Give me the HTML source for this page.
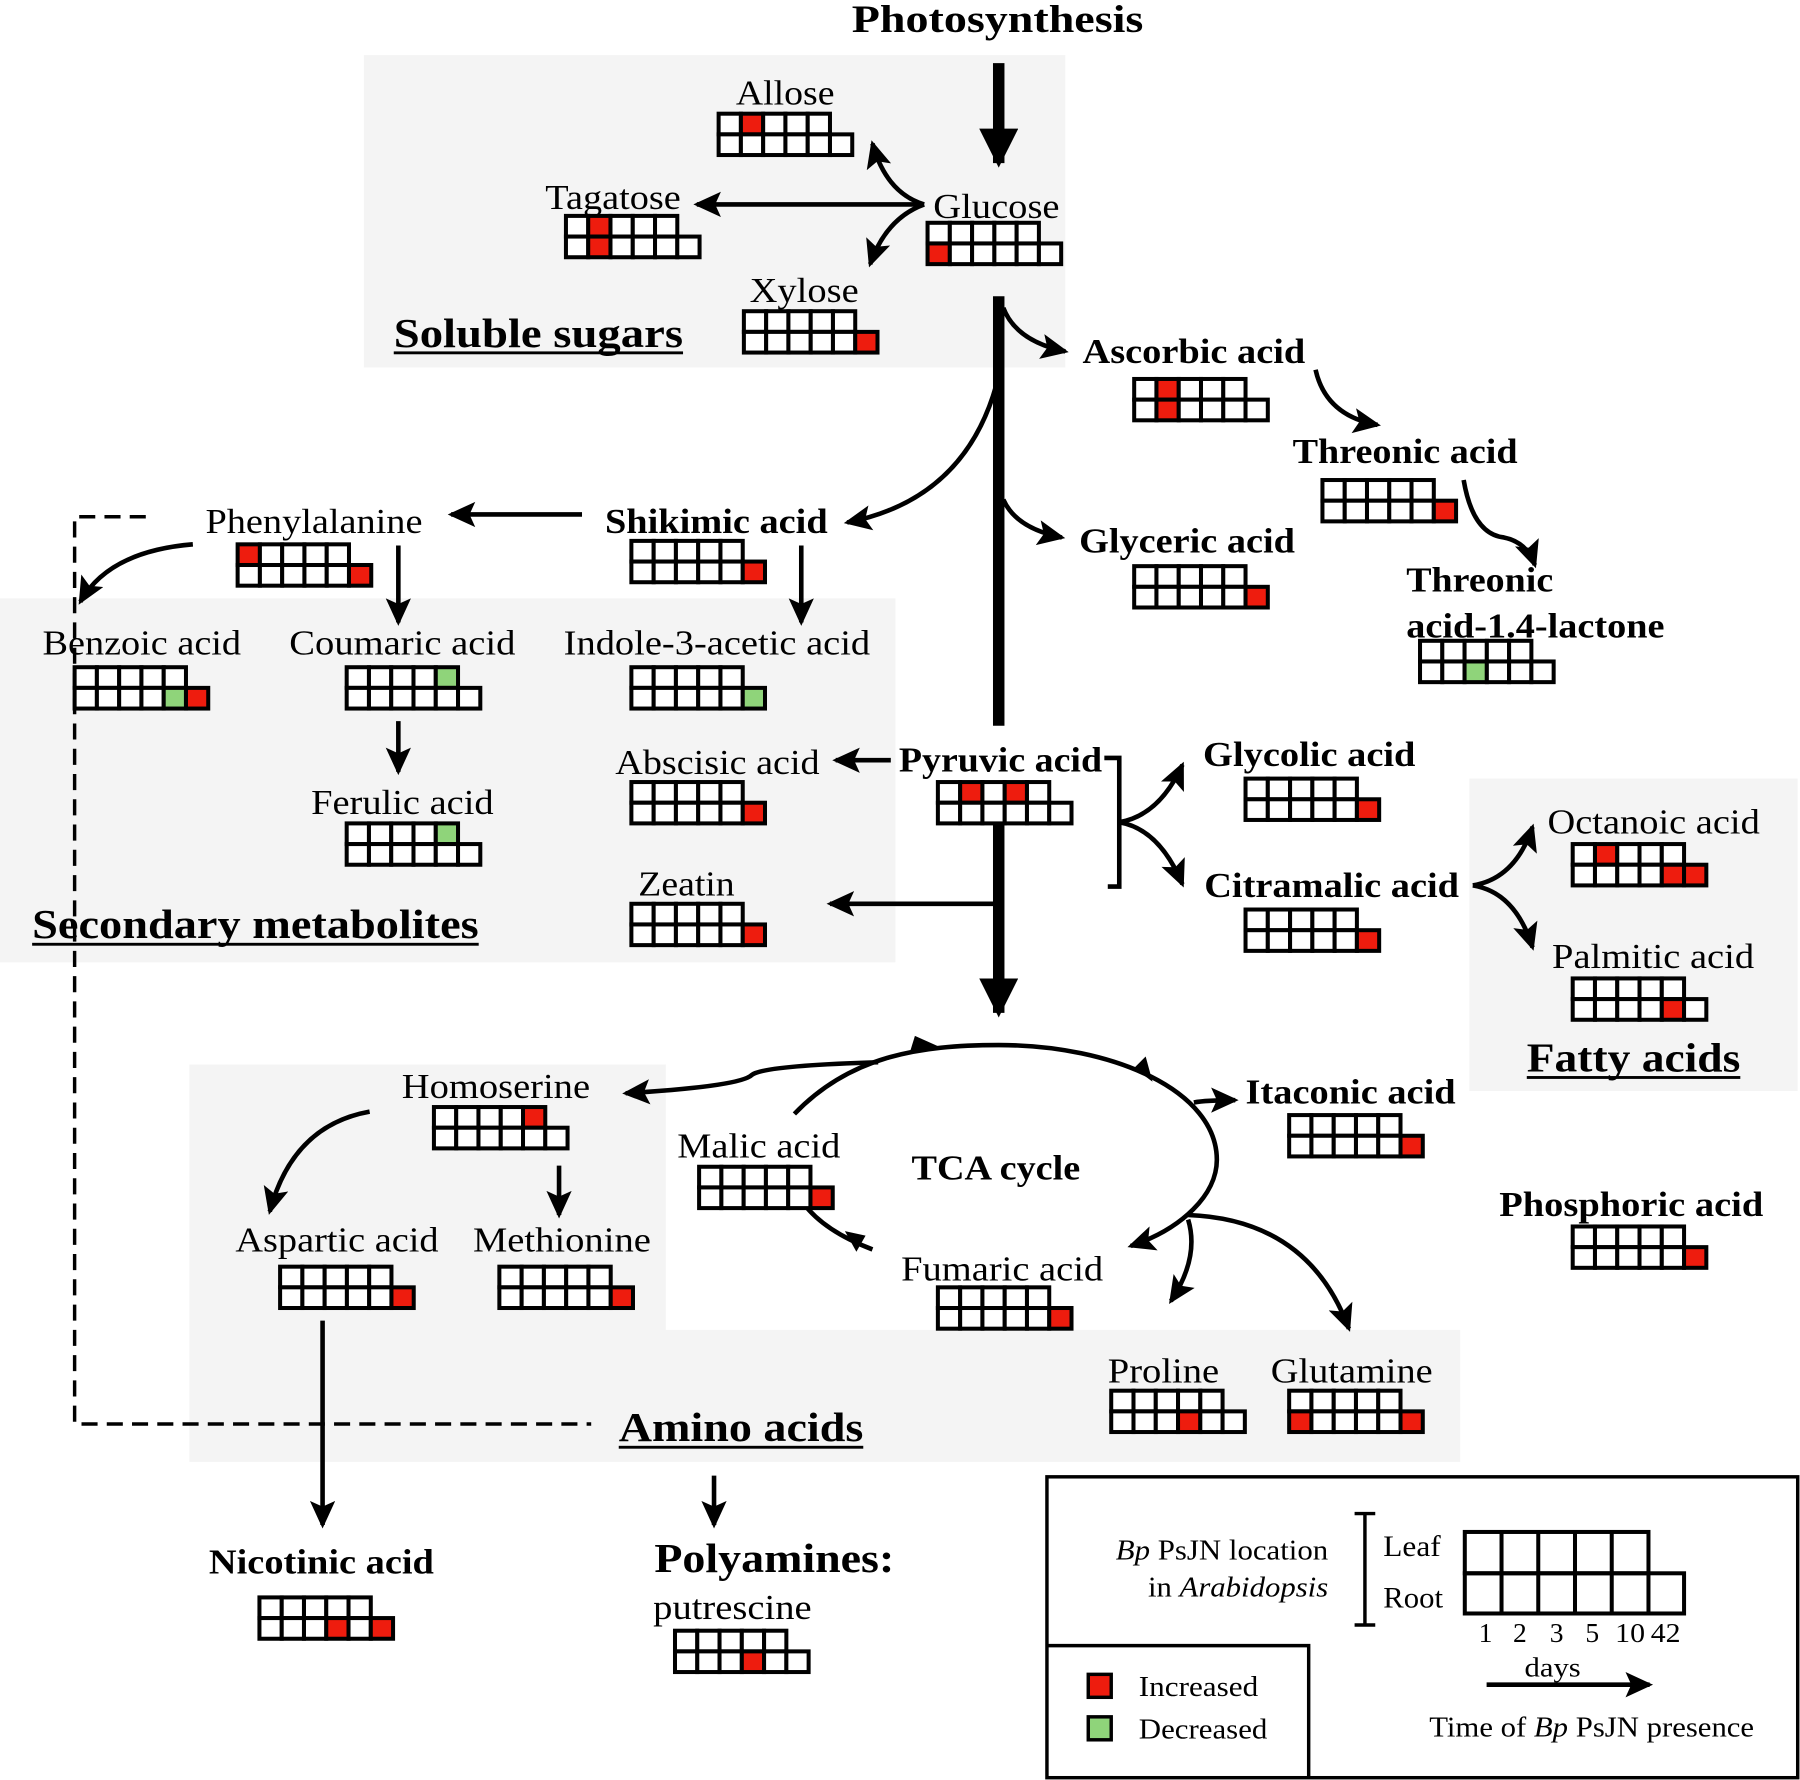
<!DOCTYPE html>
<html><head><meta charset="utf-8"><style>html,body{margin:0;padding:0;background:#fff}svg{display:block}text{font-family:"Liberation Serif","Times New Roman",serif}</style></head>
<body>
<svg id="s" width="1800" height="1780" viewBox="0 0 1568 1550" preserveAspectRatio="none" xmlns="http://www.w3.org/2000/svg">
<defs>
<marker id="a" markerUnits="userSpaceOnUse" markerWidth="28" markerHeight="28" refX="21" refY="11" orient="auto"><path d="M0,0 L24,11 L0,22 L5,11 Z" fill="#000"/></marker>
<marker id="b" markerUnits="userSpaceOnUse" markerWidth="40" markerHeight="40" refX="30" refY="17" orient="auto"><path d="M0,0 L34,17 L0,34 Z" fill="#000"/></marker>
</defs>
<g fill="#f4f4f4">
<rect x="317" y="48" width="611" height="272"/>
<rect x="0" y="521" width="780" height="317"/>
<path d="M165,927 H580 V1158 H1272 V1273 H165 Z"/>
<rect x="1280" y="678" width="286" height="272"/>
</g>
<g id="lines" fill="none" stroke="#000" stroke-width="4">
<line x1="870" y1="55" x2="870" y2="142" stroke-width="10" marker-end="url(#b)"/>
<line x1="870" y1="258" x2="870" y2="632" stroke-width="10"/>
<line x1="870" y1="718" x2="870" y2="882" stroke-width="10" marker-end="url(#b)"/>
<line x1="805" y1="178" x2="607" y2="178" marker-end="url(#a)"/>
<path d="M805,178 Q772,168 760,125" marker-end="url(#a)"/>
<path d="M805,178 Q772,190 758,230" marker-end="url(#a)"/>
<path d="M874,268 Q885,297 928,306" marker-end="url(#a)"/>
<path d="M868,335 Q840,435 738,455" marker-end="url(#a)"/>
<path d="M874,435 Q885,460 925,468" marker-end="url(#a)"/>
<path d="M1146,322 Q1155,362 1200,370" marker-end="url(#a)"/>
<path d="M1275,418 Q1283,465 1310,468 Q1330,472 1337,492" marker-end="url(#a)"/>
<line x1="507" y1="448" x2="393" y2="448" marker-end="url(#a)"/>
<line x1="698" y1="475" x2="698" y2="542" marker-end="url(#a)"/>
<line x1="347" y1="475" x2="347" y2="542" marker-end="url(#a)"/>
<path d="M168,474 Q95,480 70,524" marker-end="url(#a)"/>
<line x1="347" y1="628" x2="347" y2="672" marker-end="url(#a)"/>
<line x1="776" y1="662" x2="728" y2="662" marker-end="url(#a)"/>
<line x1="866" y1="787" x2="723" y2="787" marker-end="url(#a)"/>
<path d="M962,660 H975 V772 H965"/>
<path d="M975,716 Q1010,710 1030,666" marker-end="url(#a)"/>
<path d="M975,716 Q1010,722 1030,770" marker-end="url(#a)"/>
<path d="M1283,771 Q1320,765 1335,720" marker-end="url(#a)"/>
<path d="M1283,771 Q1320,777 1335,825" marker-end="url(#a)"/>
<path d="M692,970 C740,920 800,910 870,910 C970,910 1060,950 1060,1010 C1060,1040 1030,1070 985,1085" marker-end="url(#a)"/>
<path d="M765,925 Q665,928 655,936 Q645,946 545,952" marker-end="url(#a)"/>
<path d="M1040,960 Q1050,958 1076,958" marker-end="url(#a)"/>
<path d="M760,1088 Q718,1072 700,1048"/>
<path d="M1035,1062 Q1045,1095 1020,1133" marker-end="url(#a)"/>
<path d="M1035,1058 Q1140,1062 1175,1157" marker-end="url(#a)"/>
<line x1="281" y1="1150" x2="281" y2="1328" marker-end="url(#a)"/>
<line x1="622" y1="1285" x2="622" y2="1328" marker-end="url(#a)"/>
<path d="M322,968 Q255,980 235,1055" marker-end="url(#a)"/>
<line x1="487" y1="1015" x2="487" y2="1058" marker-end="url(#a)"/>
<path d="M127,450 H65 V1240 H515" stroke-width="3" stroke-dasharray="14,8"/>
<rect x="912" y="1286" width="654" height="262" stroke-width="3"/>
<path d="M912,1433 H1140 V1548" stroke-width="3"/>
<path d="M1189,1318 V1415 M1180,1318 H1198 M1180,1415 H1198" stroke-width="3"/>
<line x1="1295" y1="1467" x2="1437" y2="1467" marker-end="url(#a)"/>
</g>
<g fill="#000">
<path d="M793,915 L817,911 L797,902 Z"/>
<path d="M988,930 L1004,942 L998,920 Z"/>
<path d="M736,1072 L746,1090 L754,1076 Z"/>
</g>
<g id="grids"></g>
<g id="txt" fill="#000"></g>
<rect x="948" y="1458" width="20" height="20" fill="#ee1c0e" stroke="#000" stroke-width="3"/>
<rect x="948" y="1495" width="20" height="20" fill="#8fd47a" stroke="#000" stroke-width="3"/>
<g fill="none" stroke="#000" stroke-width="3.5">
<rect x="1276" y="1334" width="160" height="36"/>
<rect x="1276" y="1370" width="191" height="35"/>
<path d="M1308,1334 V1405 M1340,1334 V1405 M1372,1334 V1405 M1404,1334 V1405 M1436,1370 V1405"/>
</g>
</svg>
<script>
var NS="http://www.w3.org/2000/svg";
function el(p,n,a,t){var e=document.createElementNS(NS,n);for(var k in a)e.setAttribute(k,a[k]);if(t!==undefined)e.textContent=t;document.getElementById(p).appendChild(e);return e;}
var W=19.4,H=18;
function grid(x,y,leaf,root){
 for(var i=0;i<5;i++){var c=leaf[i]||0;el("grids","rect",{x:x+i*W,y:y,width:W,height:H,fill:c==1?"#ee1c0e":c==2?"#8fd47a":"#fff",stroke:"#000","stroke-width":3.5});}
 for(var i=0;i<6;i++){var c=root[i]||0;el("grids","rect",{x:x+i*W,y:y+H,width:W,height:H,fill:c==1?"#ee1c0e":c==2?"#8fd47a":"#fff",stroke:"#000","stroke-width":3.5});}
}
var G=[
[626,99,[0,1],[]],[808,194,[],[1]],[493,188,[0,1],[0,1]],[648,271,[],[0,0,0,0,0,1]],
[988,330,[0,1],[0,1]],[1152,418,[],[0,0,0,0,0,1]],[1237,558,[],[0,0,2]],[988,493,[],[0,0,0,0,0,1]],
[550,471,[],[0,0,0,0,0,1]],[207,474,[1],[0,0,0,0,0,1]],[65,581,[],[0,0,0,0,2,1]],[302,581,[0,0,0,0,2],[]],
[550,581,[],[0,0,0,0,0,2]],[302,717,[0,0,0,0,2],[]],[550,681,[],[0,0,0,0,0,1]],[550,787,[],[0,0,0,0,0,1]],
[817,681,[0,1,0,1],[]],[1085,678,[],[0,0,0,0,0,1]],[1085,792,[],[0,0,0,0,0,1]],[1370,735,[0,1],[0,0,0,0,1,1]],
[1370,852,[],[0,0,0,0,1]],[1123,971,[],[0,0,0,0,0,1]],[1370,1068,[],[0,0,0,0,0,1]],[378,964,[0,0,0,0,1],[]],
[609,1016,[],[0,0,0,0,0,1]],[244,1103,[],[0,0,0,0,0,1]],[435,1103,[],[0,0,0,0,0,1]],[817,1121,[],[0,0,0,0,0,1]],
[968,1211,[],[0,0,0,1]],[1123,1211,[],[1,0,0,0,0,1]],[226,1391,[],[0,0,0,1,0,1]],[588,1420,[],[0,0,0,1]]
];
G.forEach(function(g){grid(g[0],g[1],g[2],g[3]);});
var T=[
[742,996,28,"Photosynthesis",1,34],[641,727,91,"Allose"],[475,593,182,"Tagatose"],[813,923,190,"Glucose"],
[653,748,263,"Xylose"],[343,595,302,"Soluble sugars",1,36,1],[943,1137,316,"Ascorbic acid",1],
[1126,1322,403,"Threonic acid",1],[1225,1353,515,"Threonic",1],[1225,1450,555,"acid-1.4-lactone",1],
[940,1128,481,"Glyceric acid",1],[527,721,464,"Shikimic acid",1],[179,368,464,"Phenylalanine"],
[37,210,570,"Benzoic acid"],[252,449,570,"Coumaric acid"],[491,758,570,"Indole-3-acetic acid"],
[536,714,674,"Abscisic acid"],[271,430,709,"Ferulic acid"],[556,640,780,"Zeatin"],
[28,417,817,"Secondary metabolites",1,36,1],[783,960,672,"Pyruvic acid",1],[1048,1233,667,"Glycolic acid",1],
[1049,1271,781,"Citramalic acid",1],[1348,1533,726,"Octanoic acid"],[1352,1528,843,"Palmitic acid"],
[1330,1516,933,"Fatty acids",1,36,1],[1085,1268,961,"Itaconic acid",1],[1306,1536,1059,"Phosphoric acid",1],
[350,514,956,"Homoserine"],[590,732,1008,"Malic acid"],[794,941,1027,"TCA cycle",1],
[205,382,1090,"Aspartic acid"],[412,567,1090,"Methionine"],[785,961,1115,"Fumaric acid"],
[965,1062,1204,"Proline"],[1107,1248,1204,"Glutamine"],[539,752,1255,"Amino acids",1,36,1],
[182,378,1370,"Nicotinic acid",1],[570,779,1369,"Polyamines:",1,36],[569,707,1410,"putrescine"],
[1205,1255,1355,"Leaf",0,26],[1205,1257,1400,"Root",0,26],[1288,1300,1430,"1",0,24],[1318,1330,1430,"2",0,24],
[1350,1362,1430,"3",0,24],[1381,1393,1430,"5",0,24],[1407,1433,1430,"10",0,24],[1438,1464,1430,"42",0,24],
[1328,1377,1460,"days",0,24],[992,1096,1477,"Increased",0,25],[992,1104,1514,"Decreased",0,25]
];
T.forEach(function(t){
 var a={x:t[0],y:t[2],"font-size":t[5]||30,textLength:t[1]-t[0],lengthAdjust:"spacingAndGlyphs"};
 if(t[4])a["font-weight"]="bold";
 el("txt","text",a,t[3]);
 if(t[6])el("txt","rect",{x:t[0],y:t[2]+4,width:t[1]-t[0],height:2.5});
});
function rich(x1,x2,y,parts,size){
 var e=el("txt","text",{x:x1,y:y,"font-size":size,textLength:x2-x1,lengthAdjust:"spacingAndGlyphs"});
 parts.forEach(function(p){var s=document.createElementNS(NS,"tspan");s.textContent=p[0];if(p[1])s.setAttribute("font-style","italic");e.appendChild(s);});
}
rich(972,1157,1358,[["Bp",1],[" PsJN location",0]],25);
rich(1000,1157,1390,[["in ",0],["Arabidopsis",1]],25);
rich(1245,1528,1512,[["Time of ",0],["Bp",1],[" PsJN presence",0]],25);
</script>
</body></html>
